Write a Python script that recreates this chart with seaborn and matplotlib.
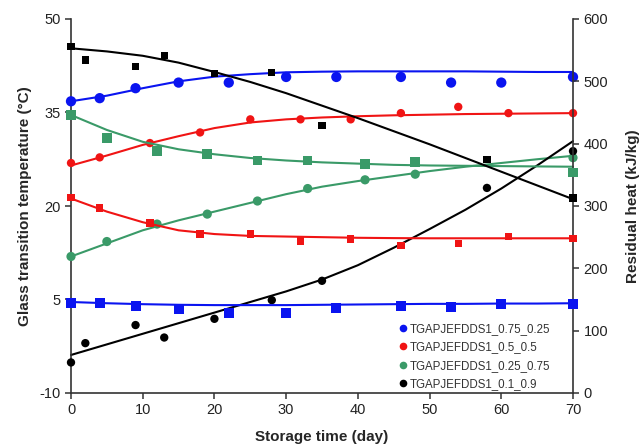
import matplotlib
matplotlib.use("Agg")
import matplotlib.pyplot as plt
from matplotlib.lines import Line2D
import seaborn as sns

# ---- data ----
# Glass transition temperature (circles, left axis)
days_blue = [0, 4, 9, 15, 22, 30, 37, 46, 53, 60, 70]
tg_blue = [36.8, 37.3, 38.9, 39.8, 39.8, 40.7, 40.7, 40.7, 39.8, 39.8, 40.7]
days_red = [0, 4, 11, 18, 25, 32, 39, 46, 54, 61, 70]
tg_red = [26.9, 27.8, 30.1, 31.8, 33.9, 33.9, 33.9, 34.9, 35.9, 34.9, 34.9]
days_green = [0, 5, 12, 19, 26, 33, 41, 48, 70]
tg_green = [11.9, 14.3, 17.1, 18.7, 20.8, 22.8, 24.2, 25.1, 27.75]
days_black = [0, 2, 9, 13, 20, 28, 35, 58, 70]
tg_black = [-5.1, -2.0, 0.9, -1.1, 1.9, 4.9, 8.0, 22.9, 28.8]

# Residual heat (squares, right axis)
heat_blue = [145, 145, 140, 135, 129, 128, 136, 140, 138, 142, 142]
heat_red = [314, 297, 273, 255, 255, 244, 247, 237, 240, 251, 248]
heat_green = [446, 409, 388, 383, 373, 373, 367, 371, 354]
heat_black = [556, 534, 524, 541, 513, 514, 429, 375, 313]

# Fitted curves
fit_days = [0, 5, 10, 15, 20, 25, 30, 35, 40, 45, 50, 55, 60, 65, 70]
tg_blue_fit = [36.8, 37.7, 38.9, 40.0, 40.75, 41.15, 41.45, 41.55, 41.6, 41.6, 41.6, 41.6, 41.55, 41.5, 41.5]
tg_red_fit = [26.5, 28.1, 29.8, 31.2, 32.5, 33.4, 33.9, 34.2, 34.4, 34.55, 34.65, 34.75, 34.8, 34.85, 34.9]
tg_green_fit = [11.9, 14.0, 16.1, 17.7, 19.1, 20.5, 21.9, 23.1, 24.0, 24.8, 25.6, 26.3, 26.9, 27.5, 28.05]
tg_black_fit = [-3.9, -2.2, -0.5, 1.2, 2.9, 4.6, 6.3, 8.2, 10.5, 13.3, 16.3, 19.4, 22.8, 26.5, 30.4]
heat_blue_fit = [146, 144, 142.5, 141.5, 141, 141, 141, 141.5, 142, 142.5, 143, 143, 143.5, 143.5, 144]
heat_red_fit = [312, 291, 274, 261, 255, 252, 251, 250, 249, 248.5, 248.2, 248.2, 248.2, 248.2, 248.2]
heat_green_fit = [446, 422, 403, 391, 383, 377, 373, 370, 368, 366, 365, 364.5, 364, 363.5, 363]
heat_black_fit = [553, 548, 541, 530, 515, 499, 481, 461, 441, 420, 399, 377, 355, 333, 311]

labels = ["TGAPJEFDDS1_0.75_0.25", "TGAPJEFDDS1_0.5_0.5",
          "TGAPJEFDDS1_0.25_0.75", "TGAPJEFDDS1_0.1_0.9"]
x_ticks = [0, 10, 20, 30, 40, 50, 60, 70]
left_ticks = [-10, 5, 20, 35, 50]
right_ticks = [0, 100, 200, 300, 400, 500, 600]

# ---- style ----
sns.set_style("ticks")
plt.rcParams["font.family"] = ["Liberation Sans", "DejaVu Sans"]
plt.rcParams["axes.unicode_minus"] = False

BLUE = "#0a14f0"
RED = "#f01414"
GREEN = "#3a9a68"
BLACK = "#000000"
AXC = "#333333"

fig = plt.figure(figsize=(6.41, 4.47), dpi=100)
ax = fig.add_axes([71 / 641, 1 - 393 / 447, 502 / 641, 374 / 447])
ax2 = ax.twinx()

lw = 1.5
# left-axis curves + circles
for d, v, fd, fv, c, s in [
    (days_blue, tg_blue, fit_days, tg_blue_fit, BLUE, 55),
    (days_red, tg_red, fit_days, tg_red_fit, RED, 36),
    (days_green, tg_green, fit_days, tg_green_fit, GREEN, 44),
    (days_black, tg_black, fit_days, tg_black_fit, BLACK, 36),
]:
    sns.lineplot(x=fd, y=fv, ax=ax, color=c, lw=lw, clip_on=False)
    sns.scatterplot(x=d, y=v, ax=ax, color=c, marker="o", s=s,
                    edgecolor="none", clip_on=False, zorder=3)

# right-axis curves + squares
for d, v, fd, fv, c, s in [
    (days_blue, heat_blue, fit_days, heat_blue_fit, BLUE, 52),
    (days_red, heat_red, fit_days, heat_red_fit, RED, 28),
    (days_green, heat_green, fit_days, heat_green_fit, GREEN, 48),
    (days_black, heat_black, fit_days, heat_black_fit, BLACK, 28),
]:
    sns.lineplot(x=fd, y=fv, ax=ax2, color=c, lw=lw, clip_on=False)
    sns.scatterplot(x=d, y=v, ax=ax2, color=c, marker="s", s=s,
                    edgecolor="none", clip_on=False, zorder=3)

ax.set_xlim(0, 70)
ax.set_ylim(-10, 50)
ax2.set_ylim(0, 600)
ax.set_xticks(x_ticks)
ax.set_yticks(left_ticks)
ax2.set_yticks(right_ticks)

for a in (ax, ax2):
    a.spines["top"].set_visible(False)
    for sp in ("left", "right", "bottom"):
        a.spines[sp].set_color(AXC)
        a.spines[sp].set_linewidth(1.2)
    a.tick_params(axis="both", labelsize=10.5, colors=AXC, length=4, width=1.1,
                  direction="out", labelcolor="#222222")
ax.spines["right"].set_visible(False)
ax2.spines["left"].set_visible(False)
ax2.spines["bottom"].set_visible(False)

ax.set_xlabel("Storage time (day)", fontsize=11, fontweight="bold", labelpad=9)
ax.set_ylabel("Glass transition temperature (°C)", fontsize=11, fontweight="bold", labelpad=5)
ax2.set_ylabel("Residual heat (kJ/kg)", fontsize=11, fontweight="bold", labelpad=13)

handles = [Line2D([0], [0], marker="o", color="none", markerfacecolor=c,
                  markeredgecolor="none", markersize=5.5)
           for c in (BLUE, RED, GREEN, BLACK)]
leg = ax2.legend(handles, labels, loc="upper left", bbox_to_anchor=(0.654, 0.188),
                 frameon=False, fontsize=8.3, handlelength=0.6, handletextpad=0.3,
                 labelspacing=0.56, borderpad=0, borderaxespad=0)
for t in leg.get_texts():
    t.set_color("#333333")

fig.savefig("out.png", dpi=100)
